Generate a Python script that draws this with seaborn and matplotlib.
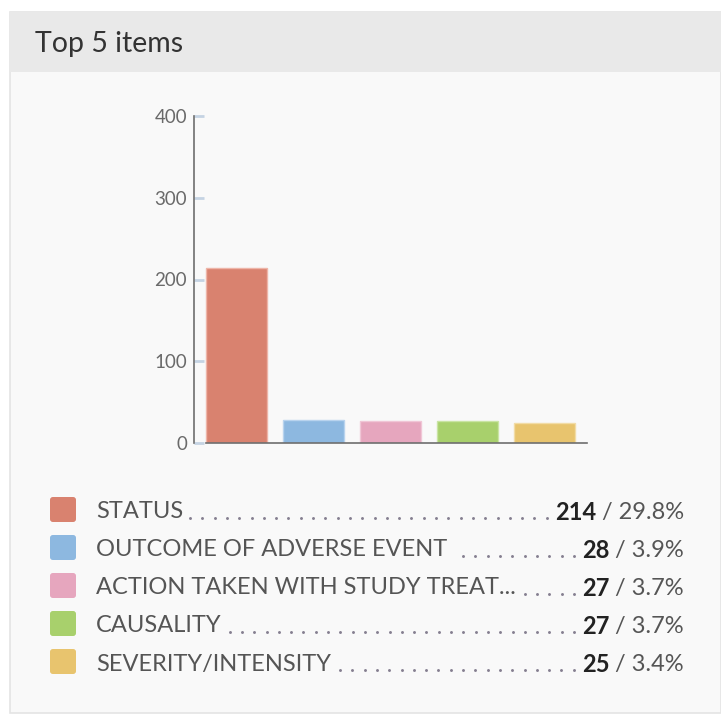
import matplotlib
matplotlib.use("Agg")
import matplotlib.pyplot as plt
import seaborn as sns
import pandas as pd
from matplotlib.patches import Rectangle, FancyBboxPatch
from matplotlib.lines import Line2D

categories = ["STATUS", "OUTCOME OF ADVERSE EVENT", "ACTION TAKEN WITH STUDY TREAT...",
              "CAUSALITY", "SEVERITY/INTENSITY"]
counts = [214, 28, 27, 27, 25]
percents = ["29.8%", "3.9%", "3.7%", "3.7%", "3.4%"]
colors = ["#d9826f", "#8db8e0", "#e6a6be", "#a8d06c", "#e8c46e"]
edge_colors = ["#eeb5a8", "#b8d3ee", "#f0c6d6", "#c9e4a3", "#f2dca6"]
yticks = [0, 100, 200, 300, 400]
title = "Top 5 items"

sns.set_theme(style="white")
plt.rcParams["font.family"] = ["Lato", "DejaVu Sans"]

W, H = 721, 715
fig = plt.figure(figsize=(W / 100, H / 100), dpi=100)
fig.patch.set_facecolor("white")

def fx(x):
    return x / W

def fy(y):
    return 1 - y / H

# panel background
fig.patches.append(Rectangle((fx(10), fy(713)), fx(721) - fx(10), fy(12) - fy(713),
                             transform=fig.transFigure, facecolor="#f9f9f9",
                             edgecolor="#e4e4e4", linewidth=1.2, zorder=-3))
fig.patches.append(Rectangle((fx(10), fy(72)), fx(721) - fx(10), fy(12) - fy(72),
                             transform=fig.transFigure, facecolor="#e9e9e9",
                             edgecolor="none", zorder=-2))
fig.text(fx(35), fy(44), title, fontsize=20.5, color="#333333", va="center", ha="left")

# chart axes
ax = fig.add_axes([fx(194), fy(443), fx(587) - fx(194), fy(116) - fy(443)])
ax.set_facecolor("none")
ax.set_zorder(1)
df = pd.DataFrame({"cat": categories, "val": counts})
sns.barplot(data=df, x="cat", y="val", hue="cat", palette=colors, legend=False,
            width=0.79, ax=ax, saturation=1)
for p, ec in zip(ax.patches, edge_colors):
    p.set_edgecolor(ec)
    p.set_linewidth(1.0)
ax.set_xlim(-0.55, 4.55)
ax.set_ylim(0, 400)
ax.set_yticks(yticks)
ax.set_yticklabels([str(t) for t in yticks])
ax.set_xticks([])
ax.set_xlabel("")
ax.set_ylabel("")
for s in ["top", "right"]:
    ax.spines[s].set_visible(False)
ax.spines["left"].set_color("#6e6e6e")
ax.spines["left"].set_linewidth(1.2)
ax.spines["bottom"].set_color("#6e6e6e")
ax.spines["bottom"].set_linewidth(1.2)
ax.spines["bottom"].set_bounds(-0.4, 4.55)
ax.tick_params(axis="y", direction="in", length=7.5, width=2, color="#c5d3e3",
               labelsize=13.5, labelcolor="#6a6a6a", pad=5, left=True)
ax.grid(False)

# legend
rows_y = [510, 548, 586, 624, 662]
fig.canvas.draw()
renderer = fig.canvas.get_renderer()
FS = 17
for cat, c, n, pct, y in zip(categories, colors, counts, percents, rows_y):
    fig.patches.append(FancyBboxPatch((fx(50), fy(y + 12)), fx(26), fy(y - 13) - fy(y + 12),
                                      boxstyle="round,pad=0,rounding_size=0.004",
                                      transform=fig.transFigure, facecolor=c,
                                      edgecolor="none", zorder=2))
    ty = y + 2
    t1 = fig.text(fx(96), fy(ty), cat, fontsize=FS, color="#555555", va="center", ha="left")
    t3 = fig.text(fx(684), fy(ty), " / " + pct, fontsize=FS, color="#555555",
                  va="center", ha="right")
    bb3 = t3.get_window_extent(renderer)
    t2 = fig.text(bb3.x0 / W, fy(ty), str(n), fontsize=FS, color="#222222",
                  fontweight="bold", va="center", ha="right")
    bb1 = t1.get_window_extent(renderer)
    bb2 = t2.get_window_extent(renderer)
    xs = []
    x = bb2.x0 - 8
    while x > bb1.x1 + 5:
        xs.append(x / W)
        x -= 12.3
    fig.lines.append(Line2D(xs, [fy(y + 8)] * len(xs), transform=fig.transFigure,
                            color="#857f90", linestyle="none", marker="o",
                            markersize=2.1, markeredgewidth=0, zorder=2))

fig.savefig("out.png", dpi=100)
